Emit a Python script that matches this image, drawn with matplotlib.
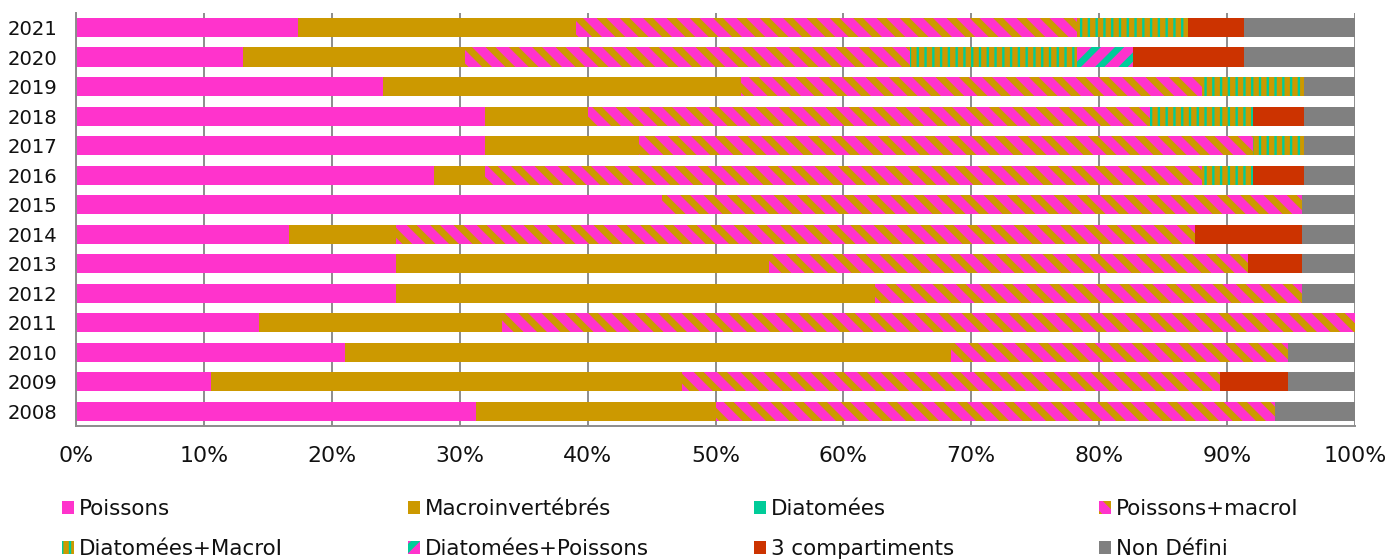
import matplotlib
matplotlib.use("Agg")
import matplotlib.pyplot as plt
import numpy as np

# Number of sites per year and per monitored compartment
years = ["2008", "2009", "2010", "2011", "2012", "2013", "2014",
         "2015", "2016", "2017", "2018", "2019", "2020", "2021"]
poissons = [5, 2, 4, 3, 6, 6, 4, 11, 7, 8, 8, 6, 3, 4]
macroinvertebres = [3, 7, 9, 4, 9, 7, 2, 0, 1, 3, 2, 7, 4, 5]
diatomees = [0, 0, 0, 0, 0, 0, 0, 0, 0, 0, 0, 0, 0, 0]
poissons_macro = [7, 8, 5, 14, 8, 9, 15, 12, 14, 12, 11, 9, 8, 9]
diatomees_macro = [0, 0, 0, 0, 0, 0, 0, 0, 1, 1, 2, 2, 3, 2]
diatomees_poissons = [0, 0, 0, 0, 0, 0, 0, 0, 0, 0, 0, 0, 1, 0]
trois_compartiments = [0, 1, 0, 0, 0, 1, 2, 0, 1, 0, 1, 0, 2, 1]
non_defini = [1, 1, 1, 0, 1, 1, 1, 1, 1, 1, 1, 1, 2, 2]

labels = ["Poissons", "Macroinvertébrés", "Diatomées", "Poissons+macroI",
          "Diatomées+MacroI", "Diatomées+Poissons", "3 compartiments",
          "Non Défini"]
x_ticks = [0, 10, 20, 30, 40, 50, 60, 70, 80, 90, 100]

PINK = "#FF33CC"
GOLD = "#CC9900"
TEAL = "#00CC99"
RED = "#CC3300"
GREY = "#808080"

plt.rcParams["hatch.linewidth"] = 3.3

# face colour, hatch pattern, hatch colour, hatch stroke width
styles = [
    (PINK, None, None, None),
    (GOLD, None, None, None),
    (TEAL, None, None, None),
    (PINK, "\\\\", GOLD, 3.6),
    (TEAL, "|||", GOLD, 2.8),
    (PINK, "//", TEAL, 3.4),
    (RED, None, None, None),
    (GREY, None, None, None),
]

series = [poissons, macroinvertebres, diatomees, poissons_macro,
          diatomees_macro, diatomees_poissons, trois_compartiments,
          non_defini]

counts = np.array(series, dtype=float)
shares = counts / counts.sum(axis=0) * 100.0

DPI = 140
fig = plt.figure(figsize=(1389 / DPI, 560 / DPI), dpi=DPI)
ax = fig.add_axes([76 / 1389, 1 - 426 / 560, 1279 / 1389, 413.2 / 560])

ypos = np.arange(len(years))
left = np.zeros(len(years))
containers = []
for vals, lab, (face, hatch, hcol, hlw) in zip(shares, labels, styles):
    cont = ax.barh(ypos, vals, left=left, height=0.65, color=face,
                   edgecolor=hcol if hcol else face, linewidth=0,
                   hatch=hatch, label=lab, zorder=2)
    if hlw:
        for p in cont.patches:
            p.set_hatch_linewidth(hlw)
    containers.append(cont)
    left += vals

ax.set_xlim(0, 100)
ax.set_ylim(-0.5, len(years) - 0.5)
ax.set_yticks(ypos)
ax.set_yticklabels(years, fontsize=10.1, color="#111111")
ax.set_xticks(x_ticks)
ax.set_xticklabels([f"{t}%" for t in x_ticks], fontsize=11.3, color="#111111")
ax.tick_params(axis="y", length=0, pad=9.8)
ax.tick_params(axis="x", length=0, pad=10.4)

ax.set_axisbelow(True)
ax.grid(axis="x", color="#8C8C8C", linewidth=1.0)
ax.grid(axis="y", visible=False)
for side in ("top", "right"):
    ax.spines[side].set_visible(False)
for side in ("left", "bottom"):
    ax.spines[side].set_color("#8C8C8C")
    ax.spines[side].set_linewidth(1.0)

# Legend laid out as four evenly spaced columns of two entries
columns = [(0, 4), (1, 5), (2, 6), (3, 7)]
col_x = [62, 408, 754, 1099]
for (a, b), x in zip(columns, col_x):
    leg = fig.legend(handles=[containers[a], containers[b]],
                     labels=[labels[a], labels[b]],
                     loc="center left", bbox_to_anchor=(x / 1389, 1 - 528.8 / 560),
                     frameon=False, borderpad=0, borderaxespad=0,
                     handlelength=0.56, handleheight=0.56, handletextpad=0.23,
                     labelspacing=0.94, fontsize=11)
    for t in leg.get_texts():
        t.set_color("#111111")
    for h, k in zip(leg.legend_handles, (a, b)):
        lw = styles[k][3]
        if lw:
            h.set_hatch_linewidth(lw)

fig.savefig("out.png", dpi=DPI)
